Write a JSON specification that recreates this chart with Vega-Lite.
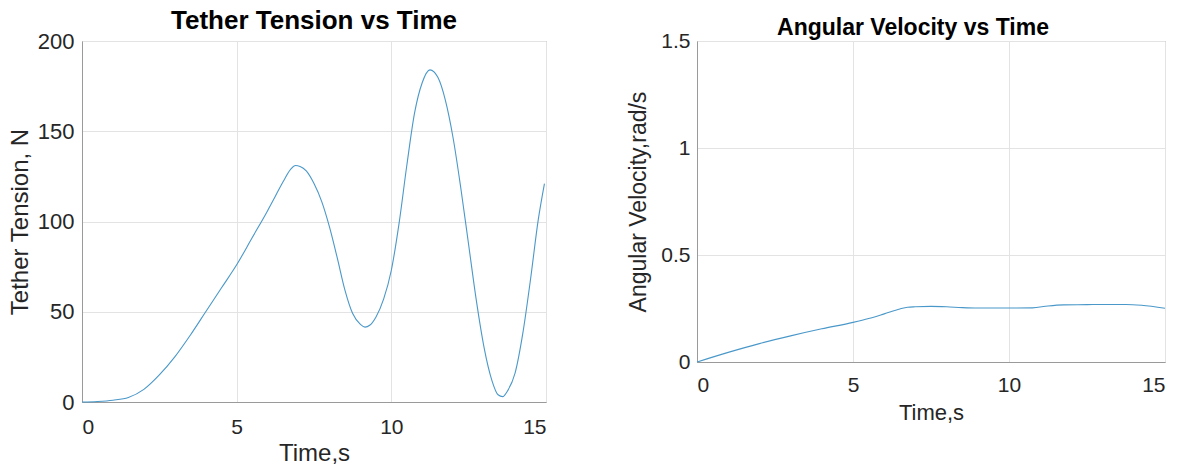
{
  "$schema": "https://vega.github.io/schema/vega-lite/v6.json",
  "padding": {"left": 7, "top": 7, "right": 2, "bottom": 2},
  "background": "white",
  "bounds": "flush",
  "spacing": 151,
  "datasets": {
    "tension": [
      {"t": 0, "v": 0}, {"t": 0.5, "v": 0.3}, {"t": 1.0, "v": 1.0}, {"t": 1.5, "v": 2.5},
      {"t": 2.0, "v": 7}, {"t": 2.5, "v": 15}, {"t": 3.0, "v": 25}, {"t": 3.5, "v": 37},
      {"t": 4.0, "v": 50}, {"t": 4.5, "v": 63}, {"t": 5.0, "v": 76}, {"t": 5.5, "v": 91},
      {"t": 6.0, "v": 106}, {"t": 6.25, "v": 114}, {"t": 6.5, "v": 122}, {"t": 6.75, "v": 129},
      {"t": 6.9, "v": 131}, {"t": 7.05, "v": 130.5}, {"t": 7.25, "v": 128}, {"t": 7.5, "v": 121},
      {"t": 7.75, "v": 111}, {"t": 8.0, "v": 97}, {"t": 8.25, "v": 80}, {"t": 8.5, "v": 62},
      {"t": 8.75, "v": 49}, {"t": 9.0, "v": 43}, {"t": 9.15, "v": 41.5}, {"t": 9.3, "v": 42.5},
      {"t": 9.5, "v": 47}, {"t": 9.75, "v": 57}, {"t": 10.0, "v": 73}, {"t": 10.25, "v": 99},
      {"t": 10.5, "v": 131}, {"t": 10.75, "v": 160}, {"t": 11.0, "v": 177}, {"t": 11.25, "v": 184},
      {"t": 11.5, "v": 180}, {"t": 11.75, "v": 167}, {"t": 12.0, "v": 146}, {"t": 12.25, "v": 118},
      {"t": 12.5, "v": 87}, {"t": 12.75, "v": 56}, {"t": 13.0, "v": 30}, {"t": 13.25, "v": 12},
      {"t": 13.45, "v": 4}, {"t": 13.6, "v": 3}, {"t": 13.75, "v": 6}, {"t": 14.0, "v": 16},
      {"t": 14.25, "v": 38}, {"t": 14.5, "v": 68}, {"t": 14.75, "v": 101}, {"t": 14.95, "v": 121}
    ],
    "omega": [
      {"t": 0, "v": 0}, {"t": 1, "v": 0.045}, {"t": 2, "v": 0.086}, {"t": 3, "v": 0.122},
      {"t": 4, "v": 0.155}, {"t": 5, "v": 0.185}, {"t": 5.5, "v": 0.203}, {"t": 6, "v": 0.225},
      {"t": 6.5, "v": 0.248}, {"t": 6.75, "v": 0.256}, {"t": 7, "v": 0.258}, {"t": 7.5, "v": 0.26},
      {"t": 8, "v": 0.258}, {"t": 8.5, "v": 0.254}, {"t": 9, "v": 0.252}, {"t": 10, "v": 0.252},
      {"t": 10.75, "v": 0.253}, {"t": 11.25, "v": 0.262}, {"t": 11.75, "v": 0.267}, {"t": 12.5, "v": 0.268},
      {"t": 13, "v": 0.269}, {"t": 13.75, "v": 0.269}, {"t": 14.25, "v": 0.265}, {"t": 15, "v": 0.251}
    ]
  },
  "config": {
    "font": "Liberation Sans",
    "view": {"stroke": "#9a9a9a", "strokeWidth": 1},
    "axis": {
      "domainColor": "#9a9a9a", "gridColor": "#e3e3e3", "ticks": false,
      "labelColor": "#262626", "titleColor": "#262626", "titleFontWeight": "normal",
      "labelFont": "Liberation Sans", "titleFont": "Liberation Sans"
    },
    "title": {"font": "Liberation Sans", "fontWeight": "bold", "color": "#000000", "anchor": "middle"}
  },
  "hconcat": [
    {
      "width": 464, "height": 361,
      "title": {"text": "Tether Tension vs Time", "fontSize": 26, "offset": -4},
      "data": {"name": "tension"},
      "mark": {"type": "line", "color": "#4a98c9", "strokeWidth": 1.1, "interpolate": "monotone"},
      "encoding": {
        "x": {"field": "t", "type": "quantitative", "scale": {"domain": [0, 15], "nice": false},
              "axis": {"values": [0, 5, 10, 15], "title": "Time,s", "labelFontSize": 21, "titleFontSize": 24, "labelPadding": 14, "titlePadding": 4}},
        "y": {"field": "v", "type": "quantitative", "scale": {"domain": [0, 200], "nice": false},
              "axis": {"values": [0, 50, 100, 150, 200], "title": "Tether Tension, N", "labelFontSize": 22, "titleFontSize": 24, "labelPadding": 8, "titlePadding": 5}}
      }
    },
    {
      "width": 468, "height": 321,
      "title": {"text": "Angular Velocity vs Time", "fontSize": 23, "offset": -10, "dx": -18},
      "data": {"name": "omega"},
      "mark": {"type": "line", "color": "#4a98c9", "strokeWidth": 1.1, "interpolate": "monotone"},
      "encoding": {
        "x": {"field": "t", "type": "quantitative", "scale": {"domain": [0, 15], "nice": false},
              "axis": {"values": [0, 5, 10, 15], "title": "Time,s", "labelFontSize": 21, "titleFontSize": 22, "labelPadding": 12, "titlePadding": 7}},
        "y": {"field": "v", "type": "quantitative", "scale": {"domain": [0, 1.5], "nice": false},
              "axis": {"values": [0, 0.5, 1, 1.5], "format": "~g", "title": "Angular Velocity,rad/s", "labelFontSize": 21, "titleFontSize": 23, "labelPadding": 7, "titlePadding": 10}}
      }
    }
  ]
}
